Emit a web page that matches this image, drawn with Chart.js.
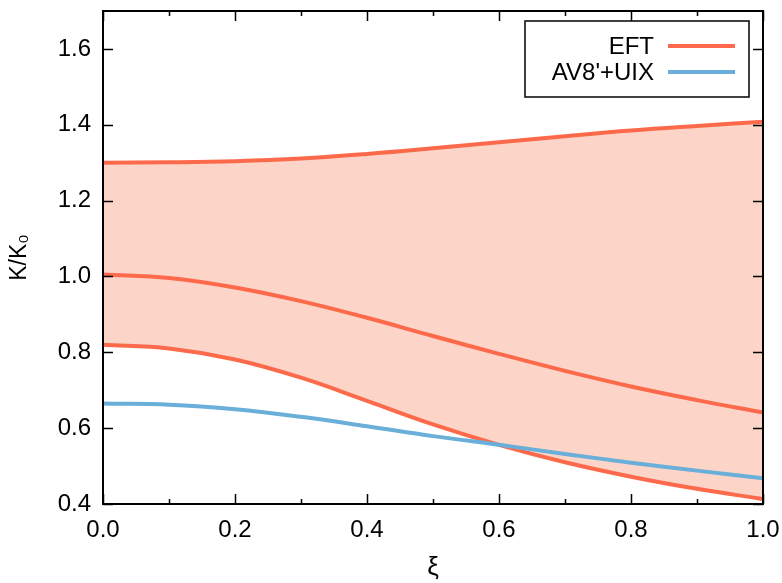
<!DOCTYPE html>
<html>
<head>
<meta charset="utf-8">
<script src="https://cdn.jsdelivr.net/npm/chart.js@4/dist/chart.umd.min.js"></script>
<style>
  html, body { margin: 0; padding: 0; background: #fff; }
  #wrap { width: 782px; height: 583px; }
</style>
</head>
<body>
<div id="wrap"><canvas id="kChart"></canvas></div>
<script>
// xi values and curves
const xi = [0, 0.1, 0.2, 0.3, 0.4, 0.5, 0.6, 0.7, 0.8, 0.9, 1.0];
const eftUpper = [1.300, 1.301, 1.304, 1.311, 1.323, 1.338, 1.354, 1.370, 1.385, 1.397, 1.408];
const eftMiddle = [1.005, 0.996, 0.971, 0.935, 0.891, 0.843, 0.796, 0.751, 0.710, 0.674, 0.641];
const eftLower = [0.820, 0.810, 0.781, 0.733, 0.672, 0.610, 0.556, 0.510, 0.472, 0.440, 0.413];
const av8uix = [0.665, 0.662, 0.650, 0.630, 0.605, 0.579, 0.556, 0.532, 0.509, 0.488, 0.468];
const xTicks = [0, 0.2, 0.4, 0.6, 0.8, 1.0];
const yTicks = [0.4, 0.6, 0.8, 1.0, 1.2, 1.4, 1.6];

const RED = "#fd6a4b";
const BLUE = "#6aafd9";
const FONT = "'Liberation Sans', Arial, sans-serif";

const pts = ys => xi.map((x, i) => ({ x: x, y: ys[i] }));

// gnuplot-like frame: box, inward ticks mirrored on all four sides, and the key
const framePlugin = {
  id: "frame",
  afterDatasetsDraw(chart) {
    const { ctx, chartArea: a, scales } = chart;
    ctx.save();
    ctx.strokeStyle = "#000";
    ctx.lineWidth = 1.5;
    ctx.beginPath();
    for (let v = 0; v <= 1.0001; v += 0.1) {
      const px = Math.round(scales.x.getPixelForValue(v)) + 0.5;
      const major = Math.abs(v * 5 - Math.round(v * 5)) < 1e-6;
      const len = major ? 10 : 5;
      ctx.moveTo(px, a.bottom); ctx.lineTo(px, a.bottom - len);
      ctx.moveTo(px, a.top); ctx.lineTo(px, a.top + len);
    }
    yTicks.forEach(v => {
      const py = Math.round(scales.y.getPixelForValue(v)) + 0.5;
      ctx.moveTo(a.left, py); ctx.lineTo(a.left + 10, py);
      ctx.moveTo(a.right, py); ctx.lineTo(a.right - 10, py);
    });
    ctx.stroke();
    ctx.lineWidth = 2;
    ctx.strokeRect(a.left, a.top, a.right - a.left, a.bottom - a.top);

    // key
    const entries = chart.data.datasets.filter(d => d.keyPos !== undefined)
      .sort((p, q) => p.keyPos - q.keyPos);
    const bx = a.right - 238, by = a.top + 10, bw = 224, bh = 76;
    ctx.fillStyle = "#fff";
    ctx.fillRect(bx, by, bw, bh);
    ctx.lineWidth = 1.5;
    ctx.strokeRect(bx, by, bw, bh);
    ctx.font = "24px " + FONT;
    ctx.textAlign = "right";
    ctx.textBaseline = "middle";
    entries.forEach((d, i) => {
      const cy = by + 25 + i * 26;
      ctx.fillStyle = "#000";
      ctx.fillText(d.label, bx + 129, cy + 1);
      ctx.strokeStyle = d.borderColor;
      ctx.lineWidth = 4;
      ctx.beginPath();
      ctx.moveTo(bx + 143, cy);
      ctx.lineTo(bx + 210, cy);
      ctx.stroke();
    });
    ctx.restore();
  }
};

const lineSet = (label, ys, color, extra) => Object.assign({
  label: label,
  data: pts(ys),
  borderColor: color,
  borderWidth: 4,
  pointRadius: 0,
  tension: 0.4,
  fill: false
}, extra || {});

const datasets = [
  lineSet("AV8'+UIX", av8uix, BLUE, { keyPos: 1 }),
  lineSet("EFT lower", eftLower, RED),
  lineSet("EFT", eftMiddle, RED, { keyPos: 0 }),
  lineSet("EFT upper", eftUpper, RED, { fill: 1, backgroundColor: "#fcd5c8" })
];

const chart = new Chart(document.getElementById("kChart").getContext("2d"), {
  type: "line",
  data: { datasets: datasets },
  options: {
    responsive: true,
    maintainAspectRatio: false,
    animation: false,
    events: [],
    layout: { padding: { top: 11, right: 19, left: 0, bottom: 0 } },
    plugins: {
      legend: { display: false },
      tooltip: { enabled: false }
    },
    scales: {
      x: {
        type: "linear",
        min: 0,
        max: 1,
        afterBuildTicks: s => { s.ticks = xTicks.map(v => ({ value: v })); },
        afterFit: s => { s.height = 79; s.paddingLeft = 0; s.paddingRight = 0; },
        grid: { display: false, drawTicks: false },
        border: { display: false },
        ticks: {
          color: "#000",
          font: { size: 24, family: FONT },
          padding: 12,
          maxRotation: 0,
          callback: v => v.toFixed(1)
        },
        title: {
          display: true,
          text: "ξ",
          color: "#000",
          font: { size: 26, family: FONT },
          padding: { top: 4, bottom: 0 }
        }
      },
      y: {
        min: 0.4,
        max: 1.7,
        afterBuildTicks: s => { s.ticks = yTicks.map(v => ({ value: v })); },
        afterFit: s => { s.width = 103; s.paddingTop = 0; s.paddingBottom = 0; },
        grid: { display: false, drawTicks: false },
        border: { display: false },
        ticks: {
          color: "#000",
          font: { size: 24, family: FONT },
          padding: 12,
          callback: v => v.toFixed(1)
        },
        title: {
          display: true,
          text: "K/K₀",
          color: "#000",
          font: { size: 23, family: FONT },
          padding: { top: 6, bottom: 2 }
        }
      }
    }
  },
  plugins: [framePlugin]
});
</script>
</body>
</html>
